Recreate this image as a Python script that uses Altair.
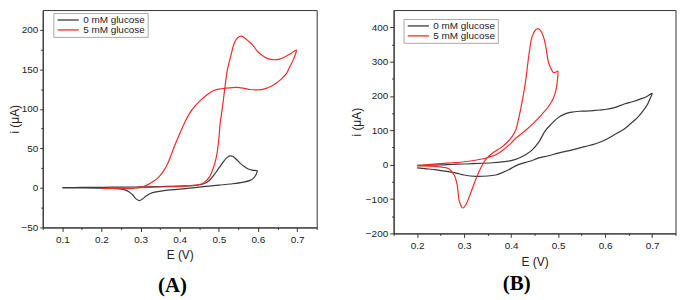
import altair as alt
import pandas as pd

SERIES = ["0 mM glucose", "5 mM glucose"]
COLORS = ["#3a3a3a", "#f42a2a"]
FONT = "Liberation Sans"
SERIF = "Liberation Serif"

# ---------------- Panel A ----------------
A0_E = [0.10, 0.15, 0.20, 0.25, 0.30, 0.35, 0.40, 0.44, 0.46, 0.475, 0.49, 0.50, 0.51, 0.52, 0.528, 0.535,
        0.545, 0.555, 0.565, 0.575, 0.585, 0.598,
        0.598, 0.59, 0.58, 0.56, 0.53, 0.50, 0.45, 0.40, 0.36, 0.34, 0.325, 0.315, 0.305, 0.297, 0.29,
        0.28, 0.27, 0.26, 0.24, 0.20, 0.15, 0.10]
A0_I = [0.5, 0.6, 0.8, 1.0, 1.3, 1.8, 2.4, 3.2, 5, 9, 18, 25, 32, 38, 40.5, 40,
        36, 31, 27, 24, 22.5, 21.5,
        20.5, 13, 9.5, 7, 5, 3.5, 1, -1.5, -3.5, -5, -7, -10, -14, -16, -14.5,
        -9, -5, -2.5, -1, -0.3, 0, 0]

A5_E = [0.20, 0.25, 0.30, 0.35, 0.40, 0.44, 0.455, 0.465, 0.475, 0.485, 0.494, 0.50, 0.503, 0.51, 0.515,
        0.522, 0.532, 0.54, 0.548, 0.557, 0.565, 0.575, 0.586, 0.60, 0.611, 0.625, 0.64, 0.655, 0.669,
        0.685, 0.698,
        0.698, 0.69, 0.68, 0.673, 0.66, 0.648, 0.635, 0.619, 0.60, 0.58, 0.565, 0.552, 0.535, 0.515, 0.50,
        0.486, 0.47, 0.453, 0.44, 0.428, 0.415, 0.403, 0.386, 0.37, 0.358, 0.345, 0.332, 0.32, 0.31,
        0.30, 0.29, 0.27, 0.25, 0.20]
A5_I = [-0.5, -0.5, 0.2, 1.2, 2, 3.5, 5, 8, 13, 24, 40, 62, 80, 105, 125,
        150, 170, 184, 190, 192, 190, 186, 181, 172, 167.5, 163.5, 162.2, 163, 166,
        170.4, 174.5,
        173, 162, 152, 145, 138, 133, 129, 125.7, 124, 124.5, 126, 127, 127, 126, 125,
        123, 118, 110.7, 104, 96.5, 85, 72, 52, 31.6, 21, 13, 8, 4.5, 2.5,
        1, 0, -0.8, -0.8, -0.5]

A_X_TICKS = [0.05, 0.1, 0.15, 0.2, 0.25, 0.3, 0.35, 0.4, 0.45, 0.5, 0.55, 0.6, 0.65, 0.7, 0.75]
A_Y_TICKS = [-50, -25, 0, 25, 50, 75, 100, 125, 150, 175, 200]

# ---------------- Panel B ----------------
B0_E = [0.20, 0.25, 0.276, 0.30, 0.33, 0.36, 0.38, 0.40, 0.415, 0.43, 0.445, 0.46, 0.473, 0.487, 0.50,
        0.515, 0.529, 0.545, 0.557, 0.58, 0.60, 0.62, 0.641, 0.66, 0.676, 0.69, 0.70,
        0.70, 0.695, 0.69, 0.68, 0.669, 0.655, 0.641, 0.62, 0.599, 0.58, 0.557, 0.53, 0.50, 0.48, 0.459,
        0.44, 0.417, 0.405, 0.395, 0.38, 0.367, 0.35, 0.325, 0.30, 0.283, 0.26, 0.241, 0.22, 0.20]
B0_I = [-2, -0.5, 1, 2, 3.5, 5.6, 8, 12, 18, 28, 43, 68, 99, 120, 137,
        148, 153, 155.5, 156, 158, 160.6, 166, 176.6, 184, 191.5, 199, 207.6,
        205, 190, 174.6, 155, 137, 120, 104, 87, 71, 61, 52.6, 43, 33.8, 26, 19.7,
        10, 0.8, -7, -15, -24, -30, -33, -34, -30, -24.5, -19, -15, -12, -9.5]

B5_E = [0.20, 0.23, 0.25, 0.276, 0.30, 0.332, 0.35, 0.3675, 0.38, 0.3955, 0.41, 0.4306, 0.45, 0.4657,
        0.48, 0.49, 0.496, 0.499, 0.4995,
        0.4985, 0.495, 0.49, 0.485, 0.4797, 0.475, 0.469, 0.463, 0.4576, 0.452, 0.4446, 0.4376, 0.4306,
        0.4236, 0.4166, 0.4096, 0.399, 0.3816, 0.3605, 0.346, 0.336, 0.3254, 0.3149, 0.304, 0.2974,
        0.29, 0.2855, 0.2797, 0.269, 0.248, 0.20]
B5_I = [-3, 1, 3, 5.6, 8.5, 15, 21, 29, 40, 57, 77, 99.4, 124, 146.5,
        170, 193.5, 220, 250, 272,
        272, 269, 268.5, 280, 297, 335, 372, 390, 396, 392, 372, 315.5, 240,
        184, 137, 99.4, 76, 52.6, 34, 15, -8.5, -41, -79, -116, -126,
        -107, -60, -32, -13, -6.5, -3.7]

B_X_TICKS = [0.15, 0.2, 0.25, 0.3, 0.35, 0.4, 0.45, 0.5, 0.55, 0.6, 0.65, 0.7, 0.75]
B_Y_TICKS = [-200, -150, -100, -50, 0, 50, 100, 150, 200, 250, 300, 350, 400]


def table(e0, i0, e5, i5):
    rows = []
    for k, (e, i) in enumerate(zip(e0, i0)):
        rows.append({"E": e, "i": i, "series": SERIES[0], "idx": k})
    for k, (e, i) in enumerate(zip(e5, i5)):
        rows.append({"E": e, "i": i, "series": SERIES[1], "idx": k})
    return pd.DataFrame(rows)


def panel(df, xdom, ydom, xticks, yticks, ystep, w, h, yext, ytick, xtpad,
          legx, legy, title, tdx, toff):
    xminor = "abs(round(datum.value*100) % 10) > 0.5"
    yminor = f"abs(datum.value % {ystep}) > 0.001"
    xs = alt.Scale(domain=xdom, nice=False, zero=False)
    ys = alt.Scale(domain=ydom, nice=False, zero=False)
    return alt.Chart(df).mark_line(strokeWidth=1.2, interpolate="catmull-rom", clip=True).encode(
        x=alt.X("E:Q", title="E (V)", scale=xs,
                axis=alt.Axis(values=xticks,
                              labelExpr="abs(round(datum.value*100) % 10) < 0.5 ? format(datum.value, '.1f') : ''",
                              tickSize={"condition": {"test": xminor, "value": 2}, "value": 4},
                              labelPadding=3, labelOverlap=False, titlePadding=xtpad)),
        y=alt.Y("i:Q", title="i (μA)", scale=ys,
                axis=alt.Axis(values=yticks,
                              labelExpr=f"abs(datum.value % {ystep}) < 0.001 ? datum.label : ''",
                              tickSize={"condition": {"test": yminor, "value": 2}, "value": ytick},
                              labelPadding=2, labelOverlap=False,
                              minExtent=yext, maxExtent=yext, titlePadding=0)),
        color=alt.Color("series:N", scale=alt.Scale(domain=SERIES, range=COLORS),
                        legend=alt.Legend(title=None, orient="none", legendX=legx, legendY=legy,
                                          symbolType="M-1,0H6.75", symbolSize=30.25, symbolStrokeWidth=1.3,
                                          labelFont=FONT, labelFontSize=10, labelColor="#222",
                                          labelOffset=18, padding=2, rowPadding=0,
                                          strokeColor="#a8a8a8", fillColor="white")),
        order=alt.Order("idx:Q"),
    ).properties(
        width=w, height=h,
        title=alt.TitleParams(title, orient="bottom", anchor="middle", frame="group",
                              font=SERIF, fontSize=21, fontWeight="bold", color="black",
                              dx=tdx, offset=toff),
    )


dfA = table(A0_E, A0_I, A5_E, A5_I)
dfB = table(B0_E, B0_I, B5_E, B5_I)

chartA = panel(dfA, [0.05, 0.75], [-50, 225], A_X_TICKS, A_Y_TICKS, 50, 276, 219, 21, 3, 5,
               10.7, 3, "(A)", -7.3, 15)
chartB = panel(dfB, [0.15, 0.75], [-200, 450], B_X_TICKS, B_Y_TICKS, 100, 284, 225, 30, 4, 6,
               10, 9, "(B)", -18, 6)

chart = alt.hconcat(chartA, chartB, spacing=32.5).resolve_scale(
    color="independent", x="independent", y="independent"
).resolve_legend(color="independent").properties(
    padding={"left": 0, "top": 0, "right": 0, "bottom": 0}
).configure_view(stroke="#333", strokeWidth=1).configure_axis(
    domainColor="#333", tickColor="#333", labelColor="#222", titleColor="#222",
    labelFont=FONT, titleFont=FONT, labelFontSize=10, titleFontSize=12,
    titleFontWeight="normal", grid=False, domainWidth=1, tickWidth=1
)

chart.save("out.html", embed_options={"renderer": "svg", "actions": False})
